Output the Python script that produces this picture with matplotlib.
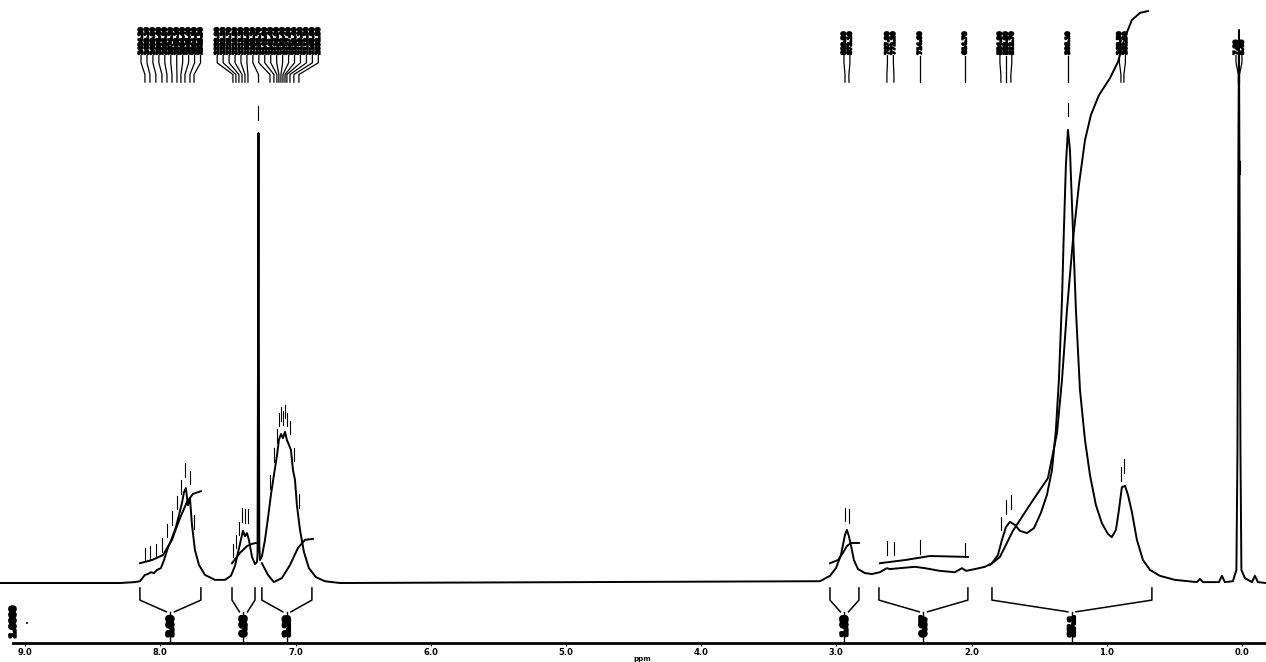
import numpy as np
import matplotlib.pyplot as plt
import matplotlib.patheffects as pe

# 1H spectrum trace: (shift in ppm, relative intensity), solvent line = 100
spectrum = [
    (9.186, 0.0), (8.299, 0.0), (8.188, 0.2), (8.151, 0.4), (8.114, 1.8), (8.092, 2.0),
    (8.070, 2.4), (8.047, 2.2), (8.025, 2.9), (7.996, 3.3), (7.973, 5.1), (7.944, 7.8),
    (7.914, 10.0), (7.885, 12.4), (7.862, 15.1), (7.840, 17.8), (7.825, 20.2), (7.811, 21.1),
    (7.796, 17.3), (7.781, 18.9), (7.766, 12.9), (7.744, 7.3), (7.714, 4.0), (7.670, 1.8),
    (7.596, 0.7), (7.522, 0.7), (7.478, 1.6), (7.448, 3.8), (7.426, 6.7), (7.404, 9.6),
    (7.389, 11.6), (7.374, 10.4), (7.359, 11.1), (7.345, 9.6), (7.322, 5.8), (7.300, 4.2),
    (7.285, 4.7), (7.281, 6.5), (7.277, 62.9), (7.274, 100.0), (7.272, 62.9), (7.268, 8.4),
    (7.263, 5.1), (7.248, 6.0), (7.226, 9.6), (7.204, 14.4), (7.182, 19.6), (7.160, 24.0),
    (7.137, 28.4), (7.123, 31.8), (7.108, 33.1), (7.093, 32.2), (7.078, 33.6), (7.064, 31.8),
    (7.049, 30.7), (7.034, 29.6), (7.019, 25.1), (7.004, 22.9), (6.990, 17.3), (6.967, 11.8),
    (6.938, 6.9), (6.901, 3.3), (6.849, 1.3), (6.783, 0.4), (6.672, 0.0), (3.121, 0.4),
    (3.047, 1.6), (3.003, 3.3), (2.966, 6.2), (2.936, 10.7), (2.922, 11.8), (2.907, 10.4),
    (2.892, 8.4), (2.870, 5.1), (2.840, 3.1), (2.788, 2.2), (2.737, 2.0), (2.678, 2.4),
    (2.626, 3.3), (2.604, 3.1), (2.530, 3.3), (2.419, 3.6), (2.345, 3.3), (2.234, 2.7),
    (2.123, 2.4), (2.071, 3.3), (2.041, 2.7), (1.975, 3.1), (1.901, 3.6), (1.849, 4.4),
    (1.805, 6.2), (1.775, 9.6), (1.746, 12.4), (1.716, 13.6), (1.679, 12.9), (1.642, 11.6),
    (1.590, 11.1), (1.538, 12.2), (1.487, 15.6), (1.442, 19.6), (1.405, 25.1), (1.376, 34.0),
    (1.354, 45.1), (1.331, 62.9), (1.317, 78.4), (1.302, 92.9), (1.287, 100.7), (1.272, 96.2),
    (1.250, 78.4), (1.228, 60.7), (1.198, 42.9), (1.161, 31.8), (1.124, 24.0), (1.080, 17.3),
    (1.036, 13.3), (0.991, 10.9), (0.962, 10.2), (0.932, 11.8), (0.910, 16.2), (0.888, 21.3),
    (0.865, 21.6), (0.843, 19.6), (0.814, 15.8), (0.777, 9.6), (0.732, 5.1), (0.680, 2.9),
    (0.607, 1.6), (0.496, 0.7), (0.333, 0.2), (0.311, 0.9), (0.288, 0.2), (0.170, 0.2),
    (0.148, 1.6), (0.126, 0.2), (0.067, 0.4), (0.041, 2.9), (0.033, 29.6), (0.026, 96.2),
    (0.022, 122.9), (0.019, 96.2), (0.011, 29.6), (0.004, 2.9), (-0.022, 1.1), (-0.074, 0.2),
    (-0.096, 1.6), (-0.118, 0.2), (-0.178, 0.0),
]

# running integral traces, one per integrated region
integral_1 = [(8.151, 4.4), (8.062, 5.1), (7.981, 6.2), (7.914, 9.6), (7.855, 14.4),
              (7.803, 18.0), (7.759, 19.8), (7.700, 20.4)]
integral_2 = [(7.470, 4.4), (7.411, 6.7), (7.359, 8.2), (7.322, 8.7), (7.293, 8.9)]
integral_3 = [(7.249, 4.4), (7.204, 1.8), (7.160, 0.2), (7.101, 1.1), (7.041, 4.0),
              (6.982, 7.8), (6.930, 9.6), (6.871, 9.8)]
integral_4 = [(3.047, 4.4), (2.988, 5.1), (2.951, 6.7), (2.922, 8.2), (2.892, 8.9), (2.833, 8.9)]
integral_5 = [(2.678, 4.4), (2.493, 5.1), (2.308, 6.0), (2.027, 5.8)]
integral_6 = [(1.864, 4.0), (1.790, 5.8), (1.694, 11.6), (1.546, 18.4), (1.435, 23.3),
              (1.368, 33.3), (1.331, 45.1), (1.294, 60.7), (1.250, 76.2), (1.206, 88.4),
              (1.161, 98.4), (1.117, 104.0), (1.058, 108.4), (0.976, 112.2), (0.917, 115.8),
              (0.865, 121.3), (0.814, 125.1), (0.754, 126.7), (0.695, 127.1)]
integrals = [integral_1, integral_2, integral_3, integral_4, integral_5, integral_6]

# integration limits (ppm) and printed integral values
regions = [(8.151, 7.700), (7.470, 7.300), (7.249, 6.879),
           (3.047, 2.833), (2.685, 2.027), (1.849, 0.666)]
region_values = ['2.00', '0.98', '2.13', '1.03', '0.87', '27.1']

# picked peaks, grouped by label block
peak_groups = [
    [8.114, 8.077, 8.033, 7.988, 7.951, 7.914, 7.877, 7.848, 7.818, 7.781, 7.751],
    [7.463, 7.441, 7.419, 7.396, 7.374, 7.352, 7.274, 7.189, 7.160, 7.138, 7.123,
     7.108, 7.093, 7.078, 7.064, 7.041, 7.012, 6.975],
    [2.936, 2.907],
    [2.626, 2.574],
    [2.382],
    [2.049],
    [1.783, 1.746, 1.709],
    [1.287],
    [0.895, 0.873],
    [0.026, 0.018],
]
mhz = 300.0

ticks = [9, 8, 7, 6, 5, 4, 3, 2, 1, 0]

ppm, amp = np.array(spectrum).T

fig = plt.figure(figsize=(12.66, 6.62), dpi=100)
ax = fig.add_axes([0, 19 / 662, 1, 643 / 662])
ax.set_xlim(9.186, -0.178)
ax.set_ylim(-13.33, 129.56)

ax.plot(ppm, amp, color='black', lw=1.4, solid_joinstyle='round')

for curve in integrals:
    xs, ys = np.array(curve).T
    ax.plot(xs, ys, color='black', lw=1.4)

# integration brackets under the baseline
stem = 0.03
for (a, b), val in zip(regions, region_values):
    c = (a + b) / 2
    ax.plot([a, a, c + stem], [-1.1, -3.8, -6.4], color='black', lw=1.1)
    ax.plot([b, b, c - stem], [-1.1, -3.8, -6.4], color='black', lw=1.1)
    ax.plot([c, c], [-6.4, -13.33], color='black', lw=1.0)
    ax.text(c, -9.6, val, rotation=90, ha='center', va='center', fontsize=6,
            fontweight='bold', color='black',
            path_effects=[pe.withStroke(linewidth=2.4, foreground='black')])

# peak-pick labels (Hz) with leader lines, plus ticks above each peak
rev_ppm, rev_amp = ppm[::-1], amp[::-1]
spacing = 0.044
for group in peak_groups:
    centre = np.mean(group)
    n = len(group)
    for i, p in enumerate(group):
        lx = centre + (n - 1) / 2 * spacing - i * spacing
        ax.text(lx, 117.4, f'{p * mhz:.2f}', rotation=90, ha='center', va='bottom',
                fontsize=4.3, fontweight='bold',
                path_effects=[pe.withStroke(linewidth=1.2, foreground='black')])
        ax.plot([lx, lx, p, p], [117.2, 115.6, 113.0, 111.3], color='black', lw=0.9)
        h = np.interp(p, rev_ppm, rev_amp)
        ax.plot([p, p], [h + 3.0, h + 6.0], color='black', lw=0.8)

for s in ['top', 'left', 'right']:
    ax.spines[s].set_visible(False)
ax.spines['bottom'].set_linewidth(2)
ax.spines['bottom'].set_bounds(9.09, -0.178)
ax.set_yticks([])
ax.set_xticks(ticks)
ax.set_xticklabels([f'{t:.1f}' for t in ticks], fontsize=6, fontweight='bold')
ax.tick_params(axis='x', length=2, width=0.8, pad=1.5)

ax.text(9.09, -8.7, '1.0000', rotation=90, ha='center', va='center', fontsize=6,
        fontweight='bold', path_effects=[pe.withStroke(linewidth=1.8, foreground='black')])
ax.text(8.987, -9.1, '\u2022', ha='center', va='center', fontsize=5)
fig.text(642 / 1266, 0.0, 'ppm', ha='center', va='bottom', fontsize=5, fontweight='bold')

fig.savefig('out.png', dpi=100)
